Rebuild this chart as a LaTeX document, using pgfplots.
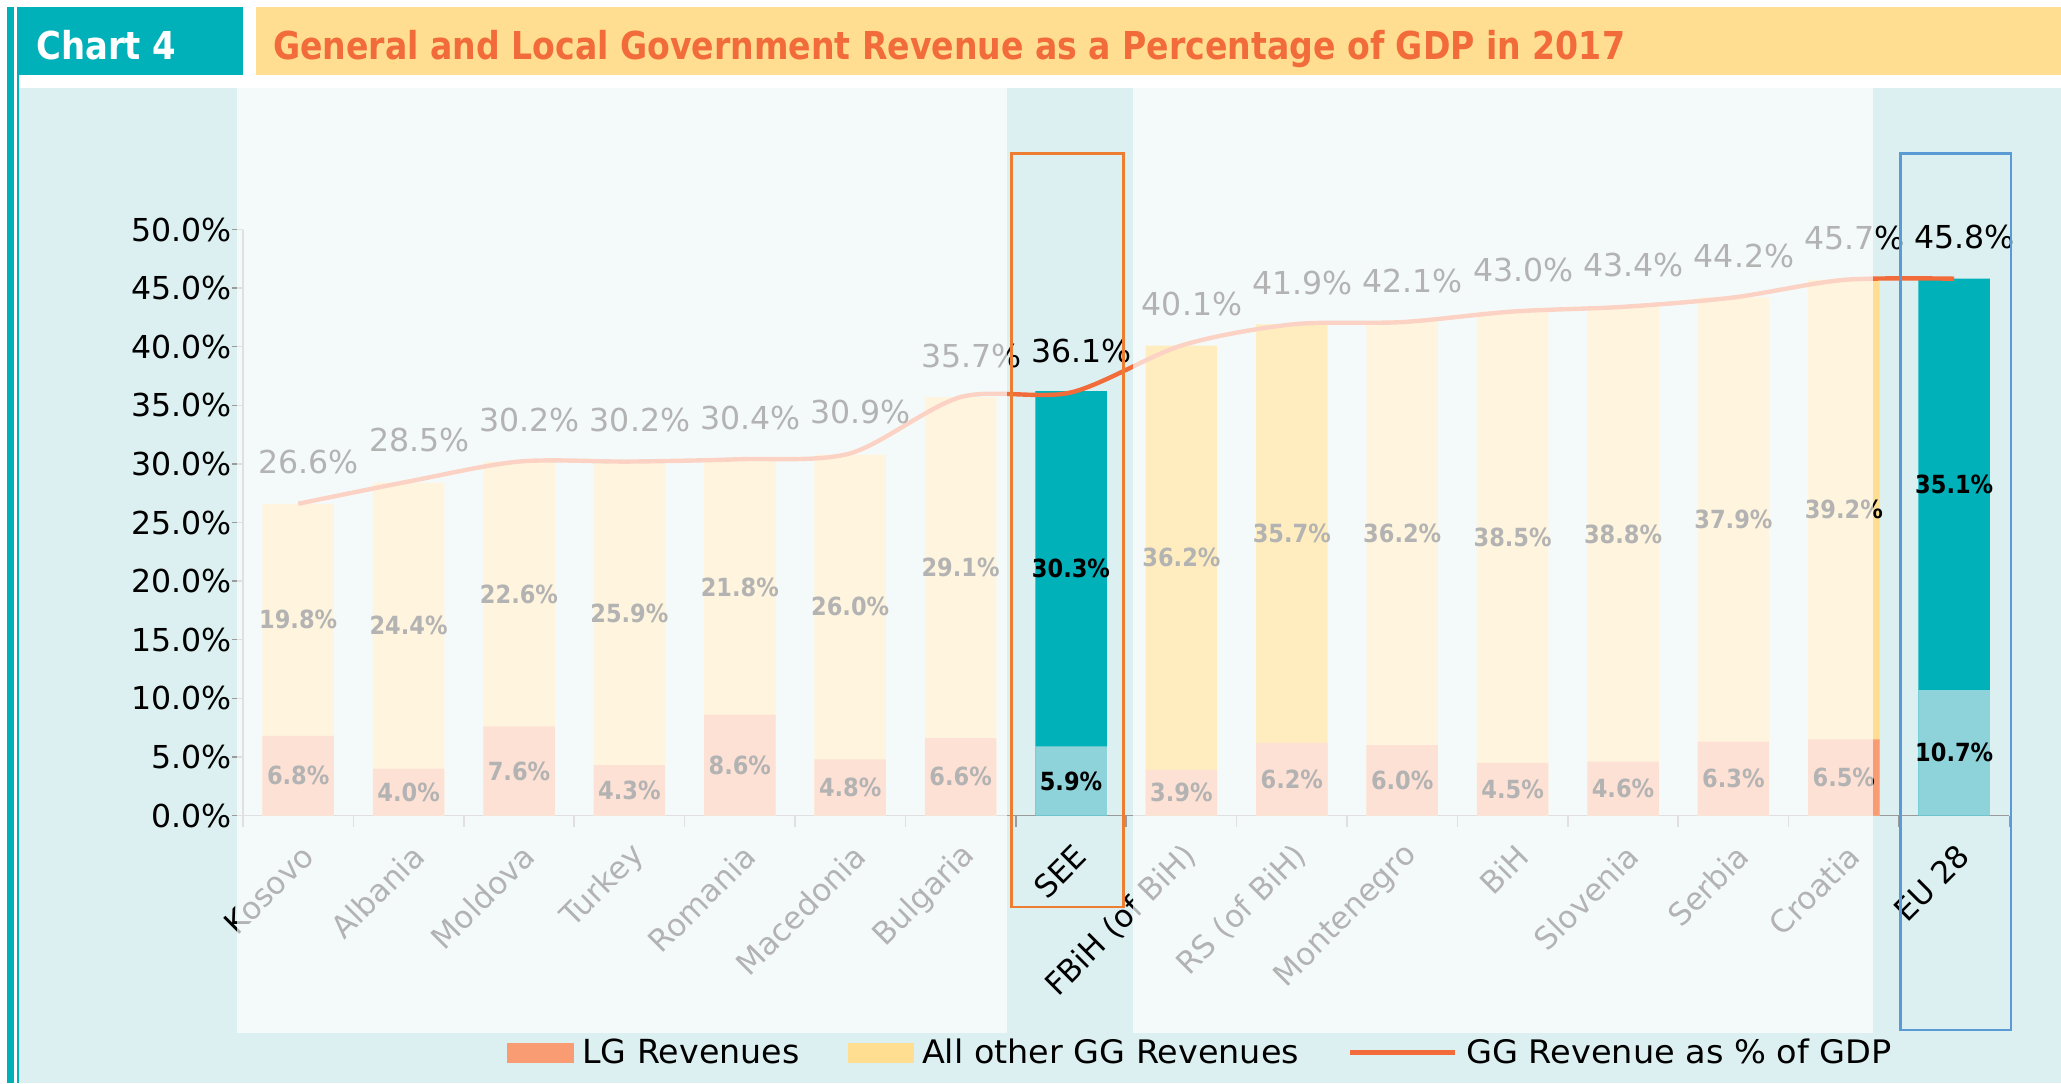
\documentclass[border=0pt]{standalone}
\usepackage{fontspec}
\setmainfont{DejaVu Sans}
\newfontfamily\condfont{DejaVu Sans Condensed}
\usepackage{graphicx}
\usepackage{pgfplots}
\pgfplotsset{compat=1.18}
\definecolor{teal2}{HTML}{00B1BA}
\definecolor{lteal}{HTML}{8FD3DA}
\definecolor{cyanbg}{HTML}{DCF0F1}
\definecolor{titlebg}{HTML}{FFDE91}
\definecolor{titletext}{HTML}{F26B3A}
\definecolor{lgcol}{HTML}{F99B73}
\definecolor{othercol}{HTML}{FFDE91}
\definecolor{goldcol}{HTML}{FFC52A}
\definecolor{linecol}{HTML}{F26B3A}
\definecolor{axisgrey}{HTML}{9A9A9A}
\definecolor{orangerect}{HTML}{ED7D31}
\definecolor{bluerect}{HTML}{5B9BD5}
\begin{document}
\begin{tikzpicture}
\path[use as bounding box] (0,0) rectangle (1030.5pt,541.5pt);
\clip (0,0) rectangle (1030.5pt,541.5pt);
\fill[white] (0,0) rectangle (1030.5pt,541.5pt);
\fill[cyanbg] (9.5pt,0) rectangle (1030.5pt,497.5pt);
\fill[teal2] (3.3pt,0) rectangle (6.8pt,538.2pt);
\fill[teal2] (8.3pt,0) rectangle (9.5pt,538.2pt);
\fill[teal2] (9.5pt,504pt) rectangle (121.5pt,538.2pt);
\fill[titlebg] (128pt,504pt) rectangle (1030.5pt,538.2pt);
\node[anchor=base west, inner sep=0pt, text=white] at (18pt,511.5pt) {\resizebox{70pt}{14.6pt}{\condfont\bfseries Chart 4}};
\node[anchor=base west, inner sep=0pt, text=titletext] at (136.4pt,511.5pt) {\resizebox{676pt}{14.6pt}{\condfont\bfseries General and Local Government Revenue as a Percentage of GDP in 2017}};
\begin{axis}[
  at={(121.5pt,133.75pt)}, anchor=south west,
  x=55.2pt, y=5.86pt,
  xmin=-0.5, xmax=15.5, ymin=0, ymax=50,
  clip=false,
  axis x line*=bottom, axis y line*=left,
  axis line style={draw=axisgrey, line width=0.75pt},
  tick align=outside,
  major tick length=5.5pt,
  tick style={draw=axisgrey, line width=0.75pt},
  ytick={0,5,...,50},
  yticklabels={0.0\%,5.0\%,10.0\%,15.0\%,20.0\%,25.0\%,30.0\%,35.0\%,40.0\%,45.0\%,50.0\%},
  yticklabel style={font=\fontsize{15.8}{16}\selectfont, anchor=east, inner sep=0pt, text=black},
  xtick={-0.5,0.5,...,15.5},
  xticklabels={\empty,\empty,\empty,\empty,\empty,\empty,\empty,\empty,\empty,\empty,\empty,\empty,\empty,\empty,\empty,\empty,\empty},
  extra x ticks={0,1,2,3,4,5,6,7,8,9,10,11,12,13,14,15},
  extra x tick labels={Kosovo,Albania,Moldova,Turkey,Romania,Macedonia,Bulgaria,SEE,FBiH (of BiH),RS (of BiH),Montenegro,BiH,Slovenia,Serbia,Croatia,EU 28},
  extra x tick style={major tick length=0pt, tick style={draw=none},
    xticklabel style={font=\fontsize{15.5}{16}\selectfont, inner sep=0pt, text=black, xshift=5pt, yshift=-17.5pt, rotate=45, anchor=east}},
  legend columns=3,
  legend style={at={(axis description cs:0.14946,-0.40444)}, anchor=west, draw=none, fill=none,
    inner sep=0pt, outer sep=0pt, nodes={inner sep=0pt, outer sep=0pt, text=black},
    /tikz/every odd column/.append style={column sep=4.3pt},
    /tikz/every even column/.append style={column sep=24.4pt}},
  legend cell align=left,
]
% totals (drawn full height, LG drawn on top)
\addplot[ybar, bar width=35.75pt, bar shift=0pt, fill=othercol, draw=none, forget plot] coordinates {
 (0,26.6) (1,28.4) (2,30.2) (3,30.2) (4,30.4) (5,30.8) (6,35.7) (10,42.2) (11,43.0) (12,43.4) (13,44.2) (14,45.7)};
\addplot[ybar, bar width=35.75pt, bar shift=0pt, fill=goldcol, draw=none, forget plot] coordinates {
 (8,40.1) (9,41.9)};
\addplot[ybar, bar width=35.75pt, bar shift=0pt, fill=teal2, draw=none, forget plot] coordinates {
 (7,36.2) (15,45.8)};
\addplot[ybar, bar width=35.75pt, bar shift=0pt, fill=lgcol, draw=none, forget plot] coordinates {
 (0,6.8) (1,4.0) (2,7.6) (3,4.3) (4,8.6) (5,4.8) (6,6.6) (8,3.9) (9,6.2) (10,6.0) (11,4.5) (12,4.6) (13,6.3) (14,6.5)};
\addplot[ybar, bar width=35.75pt, bar shift=0pt, fill=lteal, draw=none, forget plot] coordinates {
 (7,5.9) (15,10.7)};
% GG revenue line
\addplot[smooth, linecol, line width=2.2pt, forget plot, point meta=explicit symbolic, nodes near coords,
  every node near coord/.append style={anchor=base, xshift=5.3pt, yshift=15pt, text=black, inner sep=0pt,
    font=\fontsize{15.8}{16}\selectfont}] coordinates {
 (0,26.6)[26.6\%] (1,28.5)[28.5\%] (2,30.2)[30.2\%] (3,30.2)[30.2\%] (4,30.4)[30.4\%] (5,30.9)[30.9\%]
 (6,35.7)[35.7\%] (7,36.1)[36.1\%] (8,40.1)[40.1\%] (9,41.9)[41.9\%] (10,42.1)[42.1\%] (11,43.0)[43.0\%]
 (12,43.4)[43.4\%] (13,44.2)[44.2\%] (14,45.7)[45.7\%] (15,45.8)[45.8\%]};
% bar segment labels
\addplot[draw=none, forget plot, point meta=explicit symbolic, nodes near coords,
  every node near coord/.append style={anchor=center, text=black, inner sep=0pt, draw=none,
    font=\condfont\bfseries\fontsize{12.5}{12.5}\selectfont}] coordinates {
 (0,3.4)[6.8\%] (1,2.0)[4.0\%] (2,3.8)[7.6\%] (3,2.15)[4.3\%] (4,4.3)[8.6\%] (5,2.4)[4.8\%] (6,3.3)[6.6\%]
 (7,2.95)[5.9\%] (8,1.95)[3.9\%] (9,3.1)[6.2\%] (10,3.0)[6.0\%] (11,2.25)[4.5\%] (12,2.3)[4.6\%]
 (13,3.15)[6.3\%] (14,3.25)[6.5\%] (15,5.35)[10.7\%]
 (0,16.7)[19.8\%] (1,16.2)[24.4\%] (2,18.9)[22.6\%] (3,17.25)[25.9\%] (4,19.5)[21.8\%] (5,17.8)[26.0\%]
 (6,21.15)[29.1\%] (7,21.05)[30.3\%] (8,22.0)[36.2\%] (9,24.05)[35.7\%] (10,24.1)[36.2\%] (11,23.75)[38.5\%]
 (12,24.0)[38.8\%] (13,25.25)[37.9\%] (14,26.1)[39.2\%] (15,28.25)[35.1\%]};
% legend
\addlegendimage{legend image code/.code={\fill[lgcol] (0pt,-4.75pt) rectangle (33pt,4.75pt);}}
\addlegendentry{\resizebox{108.5pt}{12.3pt}{LG Revenues}}
\addlegendimage{legend image code/.code={\fill[othercol] (0pt,-4.75pt) rectangle (32.2pt,4.75pt);}}
\addlegendentry{\resizebox{188.5pt}{12.3pt}{All other GG Revenues}\hspace{6.1pt}}
\addlegendimage{legend image code/.code={\draw[linecol, line width=2.6pt] (0pt,0pt) -- (52.2pt,0pt);}}
\addlegendentry{\resizebox{213pt}{12.3pt}{GG Revenue as \% of GDP}}
\end{axis}
% fading overlay
\fill[white, opacity=0.7] (118.5pt,25pt) rectangle (503.5pt,497.5pt);
\fill[white, opacity=0.7] (566.5pt,25pt) rectangle (936.5pt,497.5pt);
\draw[orangerect, line width=1.1pt] (505.75pt,88pt) rectangle (561.75pt,464.75pt);
\draw[bluerect, line width=1.1pt] (950.25pt,26.5pt) rectangle (1005.5pt,464.75pt);
\end{tikzpicture}
\end{document}
